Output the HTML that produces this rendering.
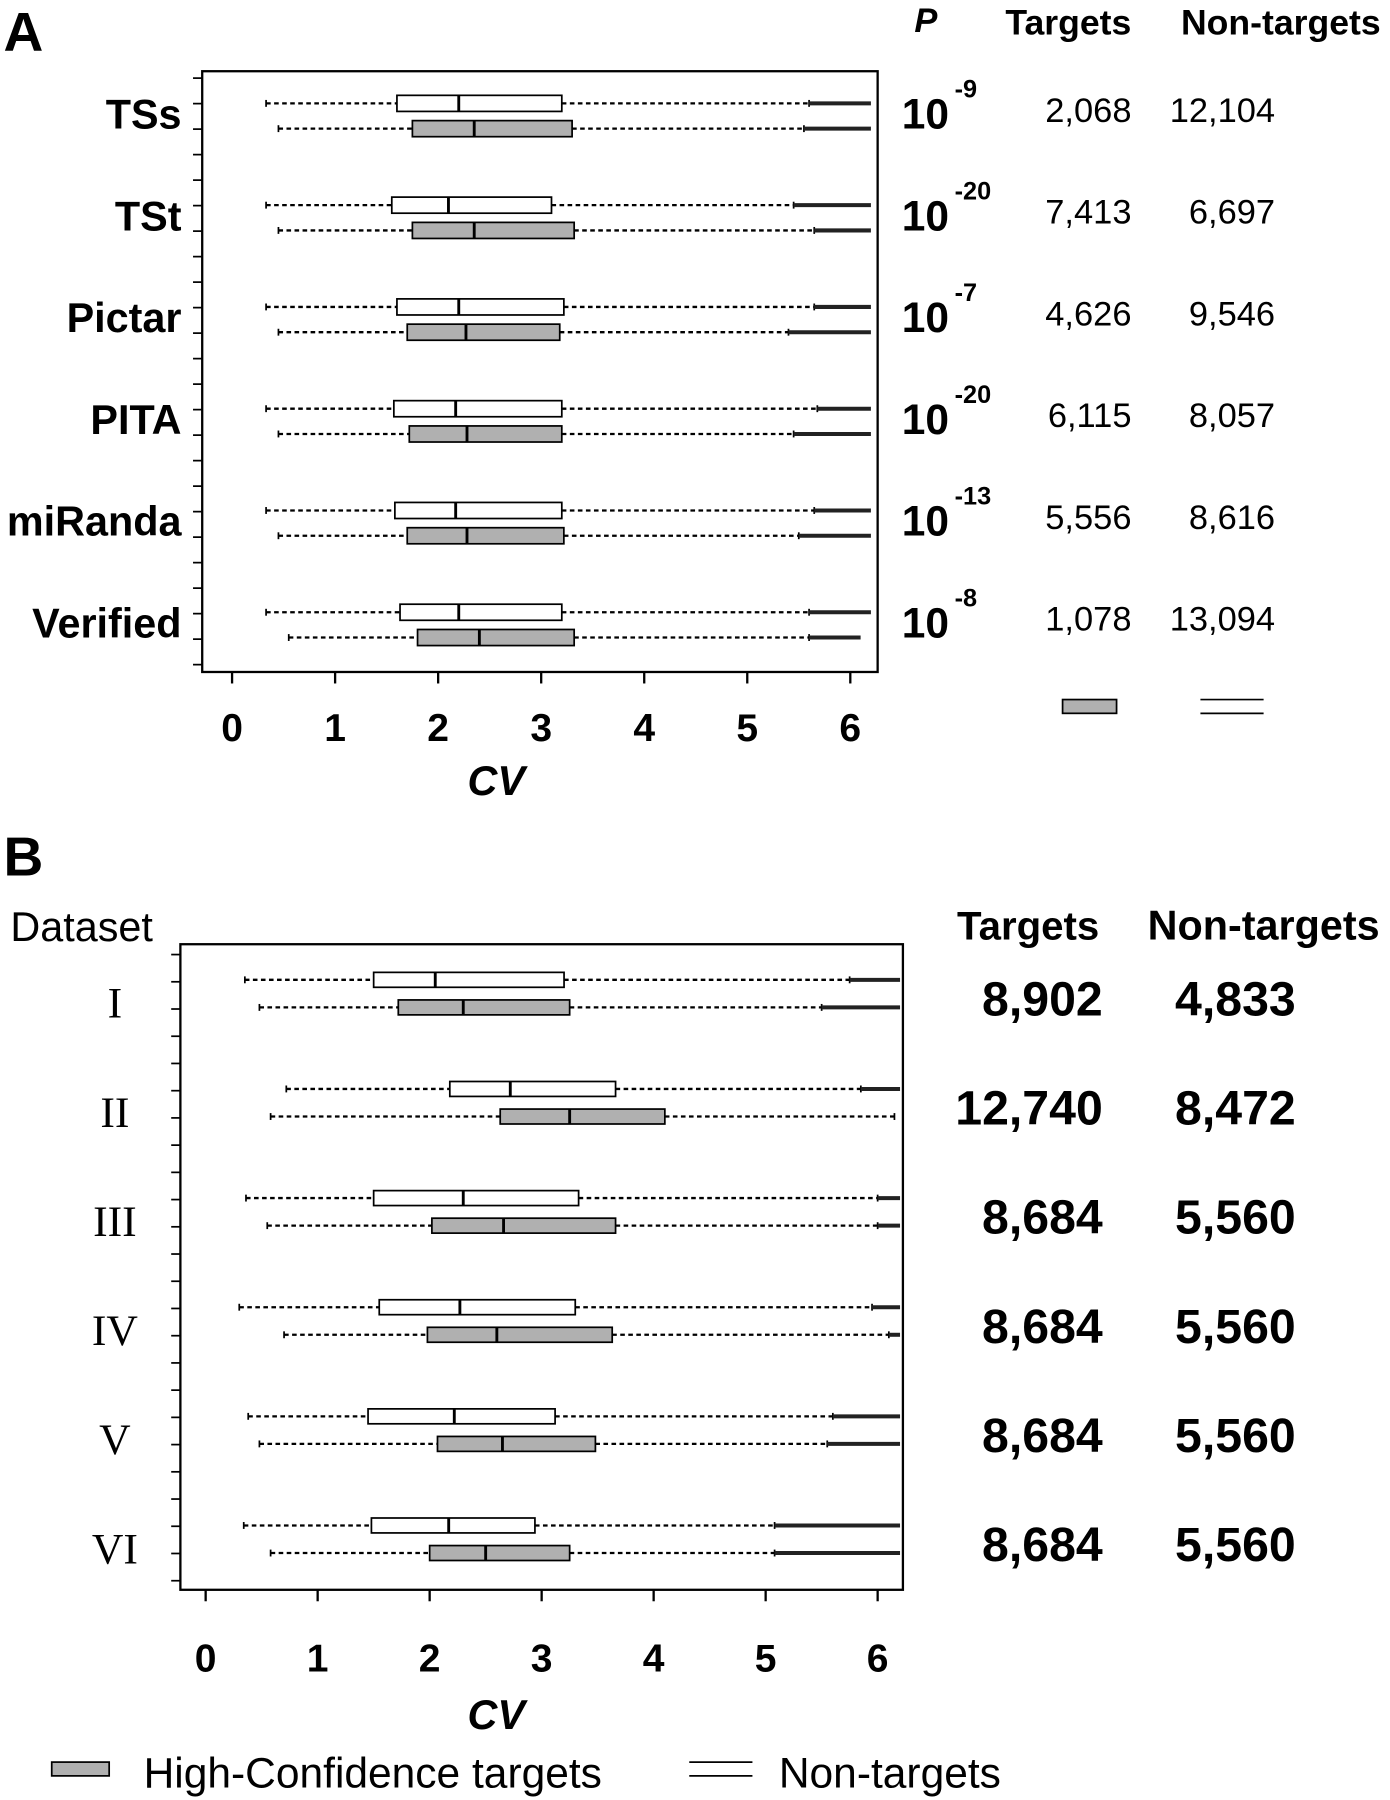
<!DOCTYPE html>
<html><head><meta charset="utf-8">
<style>html,body{margin:0;padding:0;background:#fff}svg{display:block}text{font-family:"Liberation Sans",sans-serif}</style>
</head><body>
<svg id="fig" width="1390" height="1800" viewBox="0 0 1210 1567" xmlns="http://www.w3.org/2000/svg"></svg>
<script>
// Panel A data
const catsA = ["TSs","TSt","Pictar","PITA","miRanda","Verified"];
const pA = ["-9","-20","-7","-20","-13","-8"];
const targetsA = ["2,068","7,413","4,626","6,115","5,556","1,078"];
const nontargetsA = ["12,104","6,697","9,546","8,057","8,616","13,094"];
// [whiskerLo, q1, median, q3, whiskerHi, maxOutlier]
const ntA = [[0.33,1.6,2.2,3.2,5.6,6.2],[0.33,1.55,2.1,3.1,5.45,6.2],[0.33,1.6,2.2,3.22,5.65,6.2],[0.33,1.57,2.17,3.2,5.68,6.2],[0.33,1.58,2.17,3.2,5.65,6.2],[0.33,1.63,2.2,3.2,5.6,6.2]];
const tA = [[0.45,1.75,2.35,3.3,5.55,6.2],[0.45,1.75,2.35,3.32,5.65,6.2],[0.45,1.7,2.27,3.18,5.4,6.2],[0.45,1.72,2.28,3.2,5.45,6.2],[0.45,1.7,2.28,3.22,5.5,6.2],[0.55,1.8,2.4,3.32,5.6,6.1]];
// Panel B data
const catsB = ["I","II","III","IV","V","VI"];
const targetsB = ["8,902","12,740","8,684","8,684","8,684","8,684"];
const nontargetsB = ["4,833","8,472","5,560","5,560","5,560","5,560"];
const ntB = [[0.35,1.5,2.05,3.2,5.75,6.2],[0.72,2.18,2.72,3.66,5.85,6.2],[0.36,1.5,2.3,3.33,6.0,6.2],[0.3,1.55,2.27,3.3,5.95,6.2],[0.38,1.45,2.22,3.12,5.6,6.2],[0.34,1.48,2.17,2.94,5.08,6.2]];
const tB = [[0.48,1.72,2.3,3.25,5.5,6.2],[0.58,2.63,3.25,4.1,6.15,6.15],[0.55,2.02,2.66,3.66,6.0,6.2],[0.7,1.98,2.6,3.63,6.1,6.2],[0.48,2.07,2.65,3.48,5.55,6.2],[0.58,2.0,2.5,3.25,5.08,6.2]];
const xTicks = [0,1,2,3,4,5,6];

const NS="http://www.w3.org/2000/svg";
const svg=document.getElementById('fig');
function el(tag,attrs,parent){const e=document.createElementNS(NS,tag);for(const k in attrs)e.setAttribute(k,attrs[k]);(parent||svg).appendChild(e);return e;}
function txt(s,attrs,parent){const e=el('text',attrs,parent);e.textContent=s;return e;}

function panel(cfg){
  const g=el('g',{});
  
  
  const xs=v=>cfg.x0+v*cfg.ux;
  const frame=el('rect',{x:cfg.L,y:cfg.T,width:cfg.R-cfg.L,height:cfg.B-cfg.T,fill:'none',stroke:'#000','stroke-width':2},g);
  
  
  for(let y=cfg.T+cfg.tick0;y<cfg.B;y+=cfg.tickStep){el('line',{x1:cfg.L-8,x2:cfg.L,y1:y,y2:y,stroke:'#000','stroke-width':1.5},g);}
  xTicks.forEach(t=>{
    el('line',{x1:xs(t),x2:xs(t),y1:cfg.B,y2:cfg.B+10,stroke:'#000','stroke-width':2},g);
    const l=txt(String(t),{x:xs(t),y:cfg.tickY,'text-anchor':'middle','font-size':34,'font-weight':'bold'},g);
    
    
  });
  const ax=txt('CV',{x:cfg.cvX,y:cfg.cvY,'text-anchor':'middle','font-size':36,'font-weight':'bold','font-style':'italic'},g);
  
  
  function box(d,y,fill,name){
    const bg=el('g',{},g);
    
    
    const h=cfg.bh;
    el('line',{x1:xs(d[0]),x2:xs(d[1]),y1:y,y2:y,stroke:'#000','stroke-width':2,'stroke-dasharray':'4,3'},bg);
    el('line',{x1:xs(d[3]),x2:xs(d[4]),y1:y,y2:y,stroke:'#000','stroke-width':2,'stroke-dasharray':'4,3'},bg);
    el('line',{x1:xs(d[0]),x2:xs(d[0]),y1:y-3,y2:y+3,stroke:'#000','stroke-width':1.5},bg);
    el('line',{x1:xs(d[4]),x2:xs(d[4]),y1:y-3,y2:y+3,stroke:'#000','stroke-width':1.5},bg);
    if(d[5]>d[4]) el('line',{x1:xs(d[4]),x2:Math.min(xs(d[5]),cfg.R),y1:y,y2:y,stroke:'#222','stroke-width':3.5},bg);
    el('rect',{x:xs(d[1]),y:y-h/2,width:xs(d[3])-xs(d[1]),height:h,fill:fill,stroke:'#000','stroke-width':1.5},bg);
    el('line',{x1:xs(d[2]),x2:xs(d[2]),y1:y-h/2,y2:y+h/2,stroke:'#000','stroke-width':2.5},bg);
  }
  cfg.cats.forEach((c,i)=>{
    const y=cfg.r0+i*cfg.rs;
    box(cfg.nt[i],y,'#fff','box-nontargets-'+c);
    box(cfg.t[i],y+cfg.gap,'#b0b0b0','box-targets-'+c);
    const lab=txt(c,cfg.labAttr(y),g);
    
    
    const tv=txt(cfg.tgt[i],cfg.tAttr(y),g);
    
    
    const nv=txt(cfg.ntg[i],cfg.nAttr(y),g);
    
    
    if(cfg.p){
      const pt=txt('10',{x:785,y:y+22,'font-size':37,'font-weight':'bold'},g);
      
      
      txt(cfg.p[i],{x:831,y:y-5,'font-size':22,'font-weight':'bold'},g);
    }
  });
}

panel({name:'panel-a',L:176,R:764,T:62,B:585,x0:202,ux:89.7,bh:14,tick0:6,tickStep:22.2,tickY:645,cvX:432,cvY:692,
  cats:catsA,nt:ntA,t:tA,tgt:targetsA,ntg:nontargetsA,r0:90,rs:88.6,gap:22,p:pA,
  labAttr:y=>({x:158,y:y+22,'text-anchor':'end','font-size':36,'font-weight':'bold'}),
  tAttr:y=>({x:985,y:y+16,'text-anchor':'end','font-size':30}),
  nAttr:y=>({x:1110,y:y+16,'text-anchor':'end','font-size':30})});
panel({name:'panel-b',L:157,R:786,T:822,B:1384,x0:179,ux:97.5,bh:13,tick0:9,tickStep:23.7,tickY:1455,cvX:432,cvY:1505,
  cats:catsB,nt:ntB,t:tB,tgt:targetsB,ntg:nontargetsB,r0:853,rs:95,gap:24,p:null,
  labAttr:y=>({x:100,y:y+33,'text-anchor':'middle','font-size':38,style:'font-family:"Liberation Serif",serif'}),
  tAttr:y=>({x:960,y:y+31,'text-anchor':'end','font-size':42,'font-weight':'bold'}),
  nAttr:y=>({x:1128,y:y+31,'text-anchor':'end','font-size':42,'font-weight':'bold'})});

[['A',3,44],['B',3,762]].forEach(([s,x,y])=>{const t=txt(s,{x:x,y:y,'font-size':48,'font-weight':'bold'});});
[['P',806,28,{'font-style':'italic','font-size':30}],['Targets',930,30,{}],['Non-targets',1115,30,{}],['Targets',895,818,{'font-size':35}],['Non-targets',1100,818,{'font-size':36}]].forEach(([s,x,y,ex])=>{
  const at=Object.assign({x:x,y:y,'text-anchor':'middle','font-size':31,'font-weight':'bold'},ex);
  const t=txt(s,at);
  
  
});
const ds=txt('Dataset',{x:9,y:819,'font-size':36});


function swatch(x,y,w,name){const s=el('rect',{x:x,y:y-6,width:w,height:12,fill:'#b0b0b0',stroke:'#000','stroke-width':1.5});}
function dbl(x,y,w,name){const g=el('g',{});el('line',{x1:x,x2:x+w,y1:y-6,y2:y-6,stroke:'#000','stroke-width':1.5},g);el('line',{x1:x,x2:x+w,y1:y+6,y2:y+6,stroke:'#000','stroke-width':1.5},g);}
swatch(925,615,47,'legend-targets-swatch');
dbl(1045,615,55,'legend-nontargets-swatch');
swatch(45,1540,50,'legend-hc-swatch');
dbl(600,1540,55,'legend-nt-swatch');
const l1=txt('High-Confidence targets',{x:125,y:1556,'font-size':37});


const l2=txt('Non-targets',{x:678,y:1556,'font-size':37});


</script>
</body></html>
